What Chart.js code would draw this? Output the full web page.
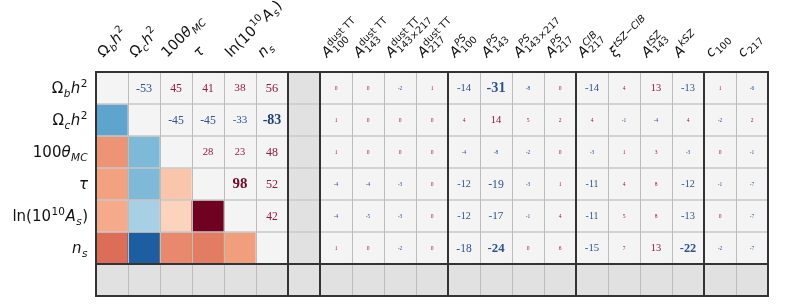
<!DOCTYPE html>
<html>
<head>
<meta charset="utf-8">
<script src="https://cdn.jsdelivr.net/npm/chart.js@4/dist/chart.umd.min.js"></script>
<style>
html,body{margin:0;padding:0;background:#fff;}
#wrap{width:790px;height:306px;position:relative;}
</style>
</head>
<body>
<div id="wrap"><canvas id="c" width="790" height="306"></canvas></div>
<script>
// ---------- DATA ----------
// Row / column parameter labels (rich text parts: t=text, i=italic, sub/sup=scripts)
const cosmoLabels = [
  [{t:'Ω'},{sub:'b',i:1},{t:'h',i:1},{sup:'2'}],
  [{t:'Ω'},{sub:'c',i:1},{t:'h',i:1},{sup:'2'}],
  [{t:'100'},{t:'θ',i:1},{sub:'MC',i:1}],
  [{t:'τ',i:1}],
  [{t:'ln(10'},{sup:'10'},{t:'A',i:1},{sub:'s',i:1},{t:')'}],
  [{t:'n',i:1},{sub:'s',i:1}]
];
const nuisanceLabels = [
  [{t:'A',i:1},{sup:'dust TT',sub:'100'}],
  [{t:'A',i:1},{sup:'dust TT',sub:'143'}],
  [{t:'A',i:1},{sup:'dust TT',sub:'143×217'}],
  [{t:'A',i:1},{sup:'dust TT',sub:'217'}],
  [{t:'A',i:1},{sup:'PS',supI:1,sub:'100'}],
  [{t:'A',i:1},{sup:'PS',supI:1,sub:'143'}],
  [{t:'A',i:1},{sup:'PS',supI:1,sub:'143×217'}],
  [{t:'A',i:1},{sup:'PS',supI:1,sub:'217'}],
  [{t:'A',i:1},{sup:'CIB',supI:1,sub:'217'}],
  [{t:'ξ',i:1},{sup:'tSZ−CIB',supI:1}],
  [{t:'A',i:1},{sup:'tSZ',supI:1,sub:'143'}],
  [{t:'A',i:1},{sup:'kSZ',supI:1}],
  [{t:'c',i:1},{sub:'100'}],
  [{t:'c',i:1},{sub:'217'}]
];

// Correlations (percent) among cosmological parameters (upper triangle, row-wise)
const corrOmegaB  = [null, -53, 45, 41, 38, 56];
const corrOmegaC  = [null, null, -45, -45, -33, -83];
const corrTheta   = [null, null, null, 28, 23, 48];
const corrTau     = [null, null, null, null, 98, 52];
const corrLnAs    = [null, null, null, null, null, 42];
const corrNs      = [null, null, null, null, null, null];
const cosmoCorr = [corrOmegaB, corrOmegaC, corrTheta, corrTau, corrLnAs, corrNs];

// Correlations (percent) of cosmological parameters with nuisance parameters
const nuisOmegaB = [0, 0, -2, 1, -14, -31, -8, 0, -14, 4, 13, -13, 1, -6];
const nuisOmegaC = [1, 0, 0, 0, 4, 14, 5, 2, 4, -1, -4, 4, -2, 2];
const nuisTheta  = [1, 0, 0, 0, -4, -8, -2, 0, -3, 1, 3, -3, 0, -1];
const nuisTau    = [-4, -4, -3, 0, -12, -19, -3, 1, -11, 4, 8, -12, -1, -7];
const nuisLnAs   = [-4, -5, -3, 0, -12, -17, -1, 4, -11, 5, 8, -13, 0, -7];
const nuisNs     = [1, 0, -2, 0, -18, -24, 0, 6, -15, 7, 13, -22, -2, -7];
const nuisCorr = [nuisOmegaB, nuisOmegaC, nuisTheta, nuisTau, nuisLnAs, nuisNs];

// ---------- LAYOUT HELPERS ----------
const NC = 6, NN = 14;
const NCOLS = NC + 1 + NN;   // 21 (one grey spacer column)
const NROWS = NC + 1;        // 7 (one grey spacer row)
const xCats = Array.from({length: NCOLS}, (_, k) => 'c' + k);

const rdbu = ['#053061','#2166ac','#4393c3','#92c5de','#d1e5f0','#f7f7f7','#fddbc7','#f4a582','#d6604d','#b2182b','#67001f'];
function hex2rgb(h){return [parseInt(h.substr(1,2),16),parseInt(h.substr(3,2),16),parseInt(h.substr(5,2),16)];}
function cmap(v){ // v in [-1,1]
  let t = (v + 1) / 2 * 10; t = Math.max(0, Math.min(10, t));
  const i = Math.min(9, Math.floor(t)), f = t - i;
  const a = hex2rgb(rdbu[i]), b = hex2rgb(rdbu[i+1]);
  return 'rgb(' + a.map((x, j) => Math.round(x + (b[j]-x)*f)).join(',') + ')';
}
function corrAt(r, c){ // symmetric cosmo lookup
  return r < c ? cosmoCorr[r][c] : cosmoCorr[c][r];
}
const LIGHT = '#f4f4f4', GREY = '#e1e1e1';

function cellColor(r, c){
  if (r === NC || c === NC) return GREY;
  if (c < NC && r > c) return cmap(corrAt(r, c) / 100);
  return LIGHT;
}

const datasets = [];
for (let r = 0; r < NROWS; r++){
  datasets.push({
    data: xCats.map(() => [r, r + 1]),
    backgroundColor: xCats.map((_, c) => cellColor(r, c)),
    borderWidth: 0,
    barPercentage: 1,
    categoryPercentage: 1,
    grouped: false
  });
}

// ---------- RICH TEXT ----------
function fontStr(size, it, bold){ return (it ? 'italic ' : '') + (bold ? 'bold ' : '') + size + 'px "DejaVu Sans"'; }
function richWidth(ctx, parts, size){
  let w = 0;
  for (const p of parts){
    if (p.t !== undefined){ ctx.font = fontStr(size, p.i); w += ctx.measureText(p.t).width; }
    else {
      const s = size * 0.7; let a = 0, b = 0;
      if (p.sup){ ctx.font = fontStr(s, p.supI || (p.i && !p.sub)); a = ctx.measureText(p.sup).width; }
      if (p.sub){ ctx.font = fontStr(s, p.i); b = ctx.measureText(p.sub).width; }
      w += Math.max(a, b) + 1;
    }
  }
  return w;
}
function drawRich(ctx, parts, x, y, size){
  ctx.textAlign = 'left'; ctx.textBaseline = 'alphabetic';
  for (const p of parts){
    if (p.t !== undefined){
      ctx.font = fontStr(size, p.i); ctx.fillText(p.t, x, y); x += ctx.measureText(p.t).width;
    } else {
      const s = size * 0.7; let a = 0, b = 0;
      if (p.sup){ ctx.font = fontStr(s, p.supI || (p.i && !p.sub)); ctx.fillText(p.sup, x + 0.5, y - size * 0.42); a = ctx.measureText(p.sup).width; }
      if (p.sub){ ctx.font = fontStr(s, p.i); ctx.fillText(p.sub, x + 0.5, y + size * 0.24); b = ctx.measureText(p.sub).width; }
      x += Math.max(a, b) + 1;
    }
  }
}

// ---------- PLUGIN: grid, labels, numbers ----------
const matrixDecor = {
  id: 'matrixDecor',
  afterDatasetsDraw(chart){
    const ctx = chart.ctx, xs = chart.scales.x, ys = chart.scales.y;
    const bx = k => xs.getPixelForValue(k - 0.5);
    const by = k => ys.getPixelForValue(k);
    const top = by(0), bot = by(NROWS), left = bx(0), right = bx(NCOLS);
    ctx.save();
    // thin grid
    ctx.strokeStyle = '#c8c8c8'; ctx.lineWidth = 1.5;
    for (let k = 1; k < NROWS; k++){ ctx.beginPath(); ctx.moveTo(left, by(k)); ctx.lineTo(right, by(k)); ctx.stroke(); }
    ctx.strokeStyle = '#bdbdbd'; ctx.lineWidth = 1;
    for (let k = 1; k < NCOLS; k++){ const x = Math.round(bx(k)) + 0.5; ctx.beginPath(); ctx.moveTo(x, top); ctx.lineTo(x, bot); ctx.stroke(); }
    // thick block borders
    ctx.strokeStyle = '#333'; ctx.lineWidth = 2;
    [0, NC, NC + 1, NC + 5, NC + 9, NC + 13, NCOLS].forEach(k => { ctx.beginPath(); ctx.moveTo(bx(k), top - 1); ctx.lineTo(bx(k), bot + 1); ctx.stroke(); });
    [0, NC, NROWS].forEach(k => { ctx.beginPath(); ctx.moveTo(left - 1, by(k)); ctx.lineTo(right + 1, by(k)); ctx.stroke(); });

    // numbers
    ctx.textAlign = 'center'; ctx.textBaseline = 'middle';
    for (let r = 0; r < NC; r++){
      const yc = ys.getPixelForValue(r + 0.5);
      for (let c = r + 1; c < NC; c++){
        const v = cosmoCorr[r][c]; const a = Math.abs(v);
        const size = 9 + a * 0.06, bold = a >= 80;
        ctx.font = (bold ? 'bold ' : '') + size.toFixed(1) + 'px "Liberation Serif"';
        ctx.fillStyle = v >= 0 ? (bold ? '#6e0a2c' : '#8e1b42') : (bold ? '#1d3f73' : '#2d5489');
        ctx.fillText(String(v), xs.getPixelForValue(c), yc + 0.5);
      }
      for (let j = 0; j < NN; j++){
        const v = nuisCorr[r][j]; const a = Math.abs(v);
        const size = a < 10 ? 5.5 : 7.5 + a * 0.22;
        ctx.font = (a >= 22 ? 'bold ' : '') + size.toFixed(1) + 'px "Liberation Serif"';
        ctx.fillStyle = v >= 0 ? '#8e1b42' : '#2d5489';
        ctx.fillText(String(v), xs.getPixelForValue(NC + 1 + j), yc + 0.5);
      }
    }

    // row labels
    ctx.fillStyle = '#111';
    cosmoLabels.forEach((parts, r) => {
      const w = richWidth(ctx, parts, 15);
      drawRich(ctx, parts, left - 8 - w, ys.getPixelForValue(r + 0.5) + 5, 15);
    });
    // column labels (rotated 45°)
    const allCols = cosmoLabels.map((p, i) => ({p, k: i})).concat(nuisanceLabels.map((p, j) => ({p, k: NC + 1 + j})));
    allCols.forEach(({p, k}) => {
      const xc = xs.getPixelForValue(k);
      ctx.save();
      ctx.translate(xc - 9, top - 14);
      ctx.rotate(-Math.PI / 4);
      drawRich(ctx, p, 0, 0, k < NC ? 14.5 : 14);
      ctx.restore();
    });
    ctx.restore();
  }
};

new Chart(document.getElementById('c'), {
  type: 'bar',
  data: { labels: xCats, datasets },
  options: {
    responsive: false,
    animation: false,
    events: [],
    layout: { padding: { left: 96, top: 72, right: 22, bottom: 10 } },
    plugins: { legend: { display: false }, tooltip: { enabled: false } },
    scales: {
      x: { display: false, offset: true },
      y: { display: false, min: 0, max: NROWS, reverse: true }
    }
  },
  plugins: [matrixDecor]
});
</script>
</body>
</html>
